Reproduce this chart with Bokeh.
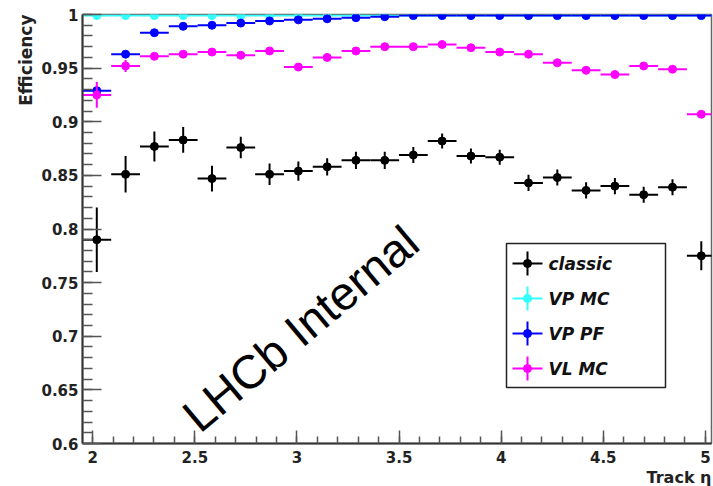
import numpy as np
from bokeh.plotting import figure
from bokeh.models import Range1d, SingleIntervalTicker, Label, CustomJSTickFormatter, Title
from bokeh.embed import file_html
from bokeh.resources import INLINE

# ---------------- data ----------------
eta = [2.020, 2.161, 2.302, 2.443, 2.584, 2.725, 2.866, 3.007, 3.148, 3.289, 3.430,
       3.570, 3.711, 3.852, 3.993, 4.134, 4.275, 4.416, 4.557, 4.698, 4.839, 4.980]
eta_halfwidth = 0.0705

classic = [0.790, 0.851, 0.877, 0.883, 0.847, 0.876, 0.851, 0.854, 0.858, 0.864, 0.864,
           0.869, 0.882, 0.868, 0.867, 0.843, 0.848, 0.836, 0.840, 0.832, 0.839, 0.775]
classic_err = [0.030, 0.017, 0.014, 0.012, 0.012, 0.010, 0.010, 0.009, 0.008, 0.008, 0.008,
               0.0075, 0.007, 0.007, 0.007, 0.0075, 0.0075, 0.0075, 0.0075, 0.0075, 0.0075, 0.0135]

vp_mc = [0.999, 0.999, 0.999, 0.999, 0.999, 0.999, 0.999, 0.999, 0.999, 0.999, 0.999,
         0.999, 0.999, 0.999, 0.999, 0.999, 0.999, 0.999, 0.999, 0.999, 0.999, 0.999]
vp_mc_err = [0.0005] * 22

vp_pf = [0.929, 0.963, 0.983, 0.989, 0.990, 0.992, 0.994, 0.995, 0.996, 0.997, 0.998,
         0.999, 0.999, 0.999, 0.999, 0.999, 0.999, 0.999, 0.999, 0.999, 0.999, 0.999]
vp_pf_err = [0.004, 0.002, 0.0015, 0.001, 0.001, 0.001, 0.001, 0.001, 0.001, 0.001, 0.001,
             0.0005, 0.0005, 0.0005, 0.0005, 0.0005, 0.0005, 0.0005, 0.0005, 0.0005, 0.0005, 0.0005]

vl_mc = [0.925, 0.952, 0.961, 0.963, 0.965, 0.962, 0.966, 0.951, 0.960, 0.966, 0.970,
         0.970, 0.972, 0.969, 0.965, 0.963, 0.955, 0.948, 0.944, 0.952, 0.949, 0.907]
vl_mc_err = [0.012, 0.0055, 0.003, 0.003, 0.003, 0.003, 0.003, 0.003, 0.003, 0.003, 0.003,
             0.003, 0.003, 0.003, 0.003, 0.003, 0.003, 0.003, 0.003, 0.003, 0.003, 0.003]

series_names = ["classic", "VP MC", "VP PF", "VL MC"]
series_colors = ["black", "#33ffff", "#0000ff", "#ff00ff"]

X0, X1 = 1.95, 5.03
Y0, Y1 = 0.6, 1.0

# frame geometry in pixels
FL, FR, FT, FB = 82, 711, 14, 443
W, H = 713, 486


def px_x(px):
    return X0 + (px - FL) * (X1 - X0) / (FR - FL)


def px_y(py):
    return Y1 - (py - FT) * (Y1 - Y0) / (FB - FT)


p = figure(width=W, height=H, x_range=Range1d(X0, X1), y_range=Range1d(Y0, Y1),
           output_backend="svg", toolbar_location=None,
           min_border_left=FL, min_border_right=W - FR, min_border_top=FT,
           min_border_bottom=H - FB)
p.background_fill_color = "white"
p.border_fill_color = "white"
p.xgrid.visible = False
p.ygrid.visible = False
p.outline_line_color = "#666666"
p.outline_line_width = 1.5

fmt = CustomJSTickFormatter(code="return String(Math.round(tick*1000)/1000);")
p.xaxis.ticker = SingleIntervalTicker(interval=0.5, num_minor_ticks=5)
p.yaxis.ticker = SingleIntervalTicker(interval=0.05, num_minor_ticks=5)
p.xaxis.formatter = fmt
p.yaxis.formatter = fmt

for ax in (p.xaxis[0], p.yaxis[0]):
    ax.axis_line_color = "#333333"
    ax.axis_line_width = 2
    ax.major_tick_line_color = "#555555"
    ax.minor_tick_line_color = "#555555"
    ax.major_tick_line_width = 1.5
    ax.minor_tick_line_width = 1.5
    ax.major_tick_out = 0
    ax.minor_tick_out = 0
    ax.major_label_text_font = "DejaVu Sans"
    ax.major_label_text_font_style = "bold"
    ax.major_label_text_font_size = "15px"
    ax.major_label_text_color = "#222222"

p.yaxis.major_tick_in = 19
p.yaxis.minor_tick_in = 10
p.yaxis.major_label_standoff = 4
p.xaxis.major_tick_in = 13
p.xaxis.minor_tick_in = 7
p.xaxis.major_label_standoff = 7

all_vals = [classic, vp_mc, vp_pf, vl_mc]
all_errs = [classic_err, vp_mc_err, vp_pf_err, vl_mc_err]

e = np.array(eta)
for vals, errs, col in zip(all_vals, all_errs, series_colors):
    v = np.array(vals)
    er = np.array(errs)
    p.segment(x0=e - eta_halfwidth, y0=v, x1=e + eta_halfwidth, y1=v,
              line_color=col, line_width=2)
    p.segment(x0=e, y0=v - er, x1=e, y1=v + er, line_color=col, line_width=2)
    p.scatter(e, v, size=8, marker="circle", fill_color=col, line_color=col)

# ---------------- legend (drawn by hand, ROOT style) ----------------
p.quad(left=[px_x(506)], right=[px_x(665)], top=[px_y(243)], bottom=[px_y(387)],
       fill_color="white", line_color="#222222", line_width=1.5)
legend_rows_px = [263, 298, 333, 368]
for name, col, ry in zip(series_names, series_colors, legend_rows_px):
    p.segment(x0=[px_x(512)], y0=[px_y(ry)], x1=[px_x(542)], y1=[px_y(ry)],
              line_color=col, line_width=2)
    p.segment(x0=[px_x(527)], y0=[px_y(ry - 12)], x1=[px_x(527)], y1=[px_y(ry + 12)],
              line_color=col, line_width=2)
    p.scatter([px_x(527)], [px_y(ry)], size=8, marker="circle", fill_color=col, line_color=col)
    p.add_layout(Label(x=px_x(548), y=px_y(ry), text=name, text_font="DejaVu Sans",
                       text_font_style="bold italic", text_font_size="17px",
                       text_color="#111111", text_baseline="middle", text_align="left"))

# ---------------- axis titles (as side titles so they align at the ends) ----------------
p.add_layout(Title(text="Efficiency", align="right", text_font="DejaVu Sans",
                   text_font_style="bold", text_font_size="17px", text_color="#222222",
                   offset=0, standoff=6), "left")
p.add_layout(Title(text="Track η", align="right", text_font="DejaVu Sans",
                   text_font_style="bold", text_font_size="16px", text_color="#222222",
                   offset=0, standoff=0), "below")

# ---------------- watermark ----------------
p.add_layout(Label(x=px_x(300), y=px_y(328), text="LHCb Internal", angle=40, angle_units="deg",
                   text_font="Liberation Sans", text_font_size="47px", text_color="black",
                   text_align="center", text_baseline="middle"))

open("out.html", "w").write(file_html(p, INLINE))
